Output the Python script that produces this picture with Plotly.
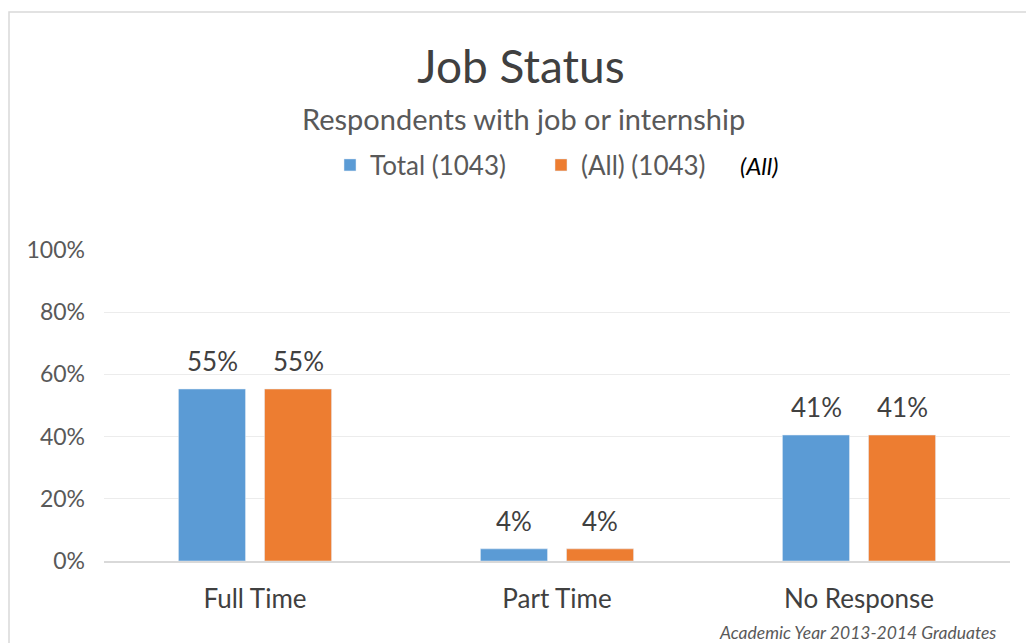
import plotly.graph_objects as go

categories = ["Full Time", "Part Time", "No Response"]
total_vals = [0.553, 0.039, 0.405]
all_vals = [0.553, 0.039, 0.405]
total_labels = ["55%", "4%", "41%"]
all_labels = ["55%", "4%", "41%"]
tick_vals = [0, 0.2, 0.4, 0.6, 0.8, 1.0]
tick_text = ["0%", "20%", "40%", "60%", "80%", "100%"]

font_family = "Lato, 'Open Sans', sans-serif"

# the page body has an 8px margin, so the figure is drawn 8px smaller
W, H = 1026, 635
L, R, T, B = 96, 24, 242, 82
pw, ph = W - L - R, H - T - B


def px(x):
    return (x - 8 - L) / pw


def py(y):
    return (H - B + 8 - y) / ph


fig = go.Figure()
fig.add_trace(go.Bar(x=categories, y=total_vals, name="Total (1043)",
                     marker_color="#5b9bd5"))
fig.add_trace(go.Bar(x=categories, y=all_vals, name="(All) (1043)",
                     marker_color="#ed7d31"))

# value labels above the bars
for vals, labels, shift in [(total_vals, total_labels, -43), (all_vals, all_labels, 43)]:
    for c, v, t in zip(categories, vals, labels):
        fig.add_annotation(x=c, y=v, text=t, showarrow=False, xshift=shift, yshift=28,
                           yanchor="middle", font=dict(size=26, color="#404040"))

fig.update_layout(
    width=W, height=H,
    margin=dict(l=L, r=R, t=T, b=B),
    paper_bgcolor="white", plot_bgcolor="white",
    font=dict(family=font_family, color="#595959"),
    barmode="group", bargap=0.43, bargroupgap=0.221,
    showlegend=True,
    legend=dict(orientation="h", x=px(330), y=py(165), xanchor="left", yanchor="middle",
                font=dict(size=26, color="#595959"), entrywidth=166,
                entrywidthmode="pixels", itemwidth=30, traceorder="normal"),
    title=dict(text="Job Status", x=0.5, xref="container", y=1 - (67 - 8) / H, yref="container",
               xanchor="center", yanchor="middle",
               font=dict(size=46, color="#404040")),
    xaxis=dict(showgrid=False, showline=True, linecolor="#d9d9d9", linewidth=2,
               tickfont=dict(size=26, color="#404040"), ticks="", ticklabelstandoff=14),
    yaxis=dict(range=[0, 1], tickvals=tick_vals, ticktext=tick_text,
               showgrid=True, gridcolor="#ececec", gridwidth=1, zeroline=False,
               tickfont=dict(size=23, color="#595959"), ticks="", ticklabelstandoff=18),
)

fig.add_annotation(text="Respondents with job or internship", xref="paper", yref="paper",
                   x=px(523), y=py(118), xanchor="center", yanchor="middle", showarrow=False,
                   font=dict(size=29, color="#595959"))
fig.add_annotation(text="<i>(All)</i>", xref="paper", yref="paper",
                   x=px(738), y=py(165), xanchor="left", yanchor="middle", showarrow=False,
                   font=dict(size=24, color="#000000"))
fig.add_annotation(text="<i>Academic Year 2013-2014 Graduates</i>", xref="paper", yref="paper",
                   x=px(998), y=py(632), xanchor="right", yanchor="middle", showarrow=False,
                   font=dict(size=17.5, color="#595959"))

fig.add_shape(type="rect", xref="paper", yref="paper",
              x0=px(9), x1=px(1045), y0=py(660), y1=py(12),
              line=dict(color="#d9d9d9", width=1.5), fillcolor="rgba(0,0,0,0)", layer="below")

fig.write_html("out.html")
